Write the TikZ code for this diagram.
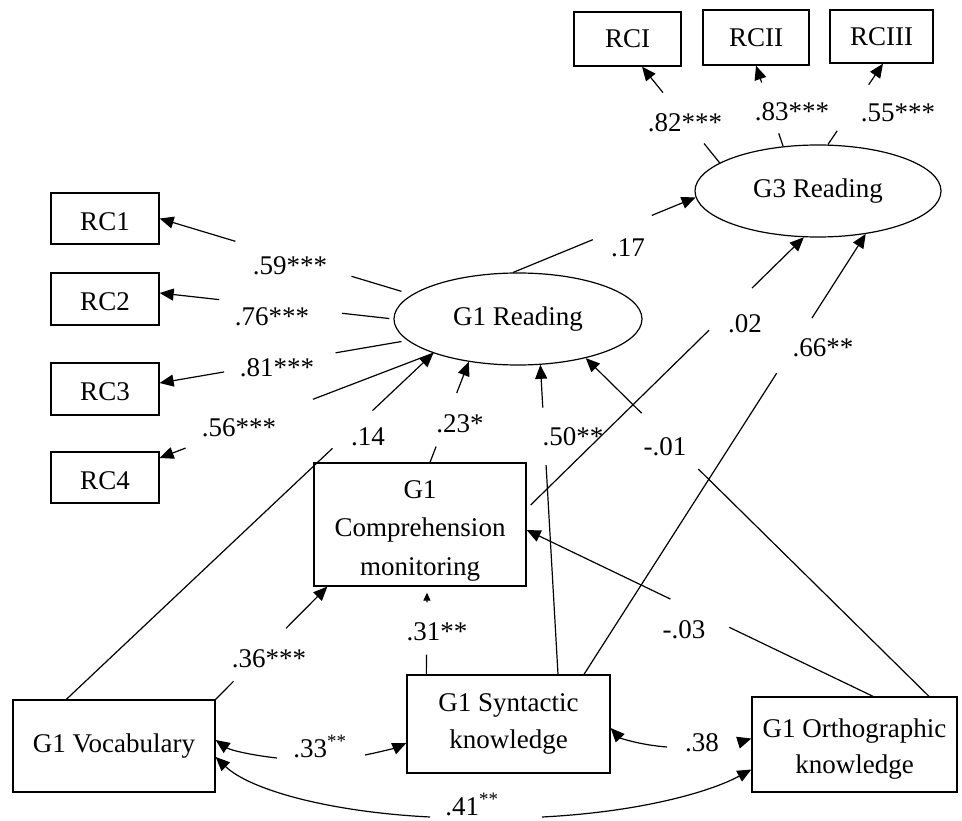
\documentclass[tikz,border=0pt]{standalone}
\usepackage{fontspec}
\setmainfont{Liberation Serif}
\usetikzlibrary{arrows.meta,calc,shapes.geometric}
\newcommand\gapped[5][]{%
  \draw[ln,#1] (#2) -- ($(#2)!#4!(#3)$);
  \draw[arr] ($(#2)!#5!(#3)$) -- (#3);}
\begin{document}
\begin{tikzpicture}[x=1pt,y=-1pt,
  every node/.style={font=\fontsize{27pt}{37pt}\selectfont},
  box/.style={draw,line width=1.3pt,inner sep=0pt,align=center},
  lat/.style={draw,ellipse,line width=1.2pt,inner sep=0pt},
  ln/.style={line width=1.2pt},
  arr/.style={line width=1.2pt,-{Triangle[length=14pt,width=12pt]}},
  sarr/.style={line width=1.2pt,-{Triangle[length=8pt,width=7pt]}},
  lbl/.style={inner sep=0pt}]
\useasboundingbox (0,0) rectangle (962,821);

% observed indicators
\node[box,minimum width=107pt,minimum height=54pt] (rci) at (627.5,39) {RCI};
\node[box,minimum width=106pt,minimum height=55pt] (rcii) at (756,37.5) {RCII};
\node[box,minimum width=103pt,minimum height=53pt] (rciii) at (881.5,36.5) {RCIII};
\node[box,minimum width=108pt,minimum height=51pt] (rc1) at (105,218.5) {\rule{0pt}{24pt}RC1};
\node[box,minimum width=108pt,minimum height=52pt] (rc2) at (105,299) {\rule{0pt}{24pt}RC2};
\node[box,minimum width=108pt,minimum height=52pt] (rc3) at (105,389) {\rule{0pt}{24pt}RC3};
\node[box,minimum width=108pt,minimum height=51pt] (rc4) at (105,477.5) {\rule{0pt}{24pt}RC4};

% latent variables
\node[lat,minimum width=246pt,minimum height=92pt] (g3r) at (818,191) {G3 Reading};
\node[lat,minimum width=248pt,minimum height=92pt] (g1r) at (518,319) {G1 Reading};

% predictors
\node[box,minimum width=212pt,minimum height=123pt,font=\fontsize{27pt}{38.5pt}\selectfont] (cm) at (420,524.5) {\rule{0pt}{30pt}G1\\Comprehension\\monitoring};
\node[box,minimum width=202pt,minimum height=92pt] (voc) at (114,746) {G1 Vocabulary};
\node[box,minimum width=203pt,minimum height=98pt] (syn) at (508.5,724) {G1 Syntactic\\knowledge};
\node[box,minimum width=205pt,minimum height=95pt,font=\fontsize{27pt}{36pt}\selectfont] (ortho) at (854.5,744.5) {\rule{0pt}{28pt}G1 Orthographic\\knowledge};

% connector end points
\coordinate (rcit) at ([xshift=14.5pt]rci.south);
\coordinate (rciiit) at ([xshift=1.5pt]rciii.south);
\coordinate (rc2t) at ([yshift=6pt]rc2.east);
\coordinate (rc3t) at ([yshift=6pt]rc3.east);
\coordinate (rc4t) at ([yshift=19.5pt]rc4.east);
\coordinate (voct) at ([xshift=54pt]voc.north west);
\coordinate (cmt) at ([xshift=10pt]cm.north);
\coordinate (cmr) at ([xshift=4pt,yshift=19.5pt]cm.east);
\coordinate (cmri) at ([yshift=-5.5pt]cm.east);
\coordinate (cmb) at ([xshift=14pt]cm.south west);
\coordinate (cmbt) at ([xshift=7pt,yshift=-6pt]cm.south);
\coordinate (syna) at ([xshift=20pt]syn.north west);
\coordinate (synb) at ([xshift=49.5pt]syn.north);
\coordinate (sync) at ([xshift=75.5pt]syn.north);
\coordinate (orta) at ([xshift=18.5pt]ortho.north);
\coordinate (ortb) at ([xshift=74.5pt]ortho.north);

% loadings
\gapped{g3r.164}{rcit}{0.20}{0.73}
\gapped{g3r.128}{rcii.south}{0.16}{0.79}
\gapped{g3r.78}{rciiit}{0.17}{0.74}
\gapped[shorten <=11pt]{g1r.167}{rc1.east}{0.24}{0.70}
\gapped[shorten <=4pt]{g1r.180}{rc2t}{0.22}{0.745}
\gapped[shorten <=6pt]{g1r.191}{rc3t}{0.29}{0.74}
\gapped{g1r.202}{rc4t}{0.44}{0.905}

% structural paths
\gapped{voct}{g1r.202}{0.725}{0.834}
\gapped{cmt}{g1r.221}{0.157}{0.69}
\gapped{synb}{g1r.296}{0.676}{0.862}
\gapped{ortb}{g1r.330}{0.672}{0.837}
\gapped{g1r.96}{g3r.183}{0.437}{0.76}
\gapped{cmr}{g3r.253}{0.653}{0.81}
\gapped{sync}{g3r.318}{0.684}{0.809}
\gapped{voc.north east}{cmb}{0.16}{0.63}
\draw[ln] (syna) -- ($(syna)!0.24!(cmbt)$);
\draw[sarr] ($(syna)!0.88!(cmbt)$) -- (cmbt);
\gapped{orta}{cmri}{0.415}{0.585}

% correlations (curved, double headed, split by labels)
\coordinate (c33a) at (277,758);
\coordinate (c33b) at (365,755);
\coordinate (c38a) at (667,747);
\coordinate (c38b) at (740,742);
\coordinate (c41a) at (430,817);
\coordinate (c41b) at (542,817);
\draw[arr] (c33a) .. controls (250,755) and (230,750) .. ([yshift=6pt]voc.east);
\draw[arr] (c33b) .. controls (380,752) and (395,748) .. ([yshift=-19pt]syn.west);
\draw[arr] (c38a) .. controls (640,745) and (620,738) .. ([yshift=-4pt]syn.east);
\draw[arr] (c38b) -- ([yshift=6pt]ortho.west);
\draw[arr] (c41a) .. controls (330,812) and (250,790) .. ([yshift=-11pt]voc.east);
\draw[arr] (c41b) .. controls (640,812) and (710,792) .. ([yshift=-25pt]ortho.west);

% labels
\node[lbl] (l82) at (685,123) {.82***};
\node[lbl] (l83) at (792,112) {.83***};
\node[lbl] (l55) at (898,113) {.55***};
\node[lbl] (l59) at (290,266) {.59***};
\node[lbl] (l76) at (272,317) {.76***};
\node[lbl] (l81) at (277,368) {.81***};
\node[lbl] (l56) at (239,428) {.56***};
\node[lbl] (l14) at (368,437) {.14};
\node[lbl] (l23) at (460,424) {.23*};
\node[lbl] (l50) at (573,437) {.50**};
\node[lbl] (l01) at (665,447) {-.01};
\node[lbl] (l17) at (628,248) {.17};
\node[lbl] (l02) at (745,324) {.02};
\node[lbl] (l66) at (823,348) {.66**};
\node[lbl] (l36) at (269,659) {.36***};
\node[lbl] (l31) at (437,632) {.31**};
\node[lbl] (l03) at (684,630) {-.03};
\node[lbl,anchor=base] (l33) at (320,757) {.33\textsuperscript{**}};
\node[lbl] (l38) at (702,743) {.38};
\node[lbl,anchor=base] (l41) at (472,815) {.41\textsuperscript{**}};
\end{tikzpicture}
\end{document}
